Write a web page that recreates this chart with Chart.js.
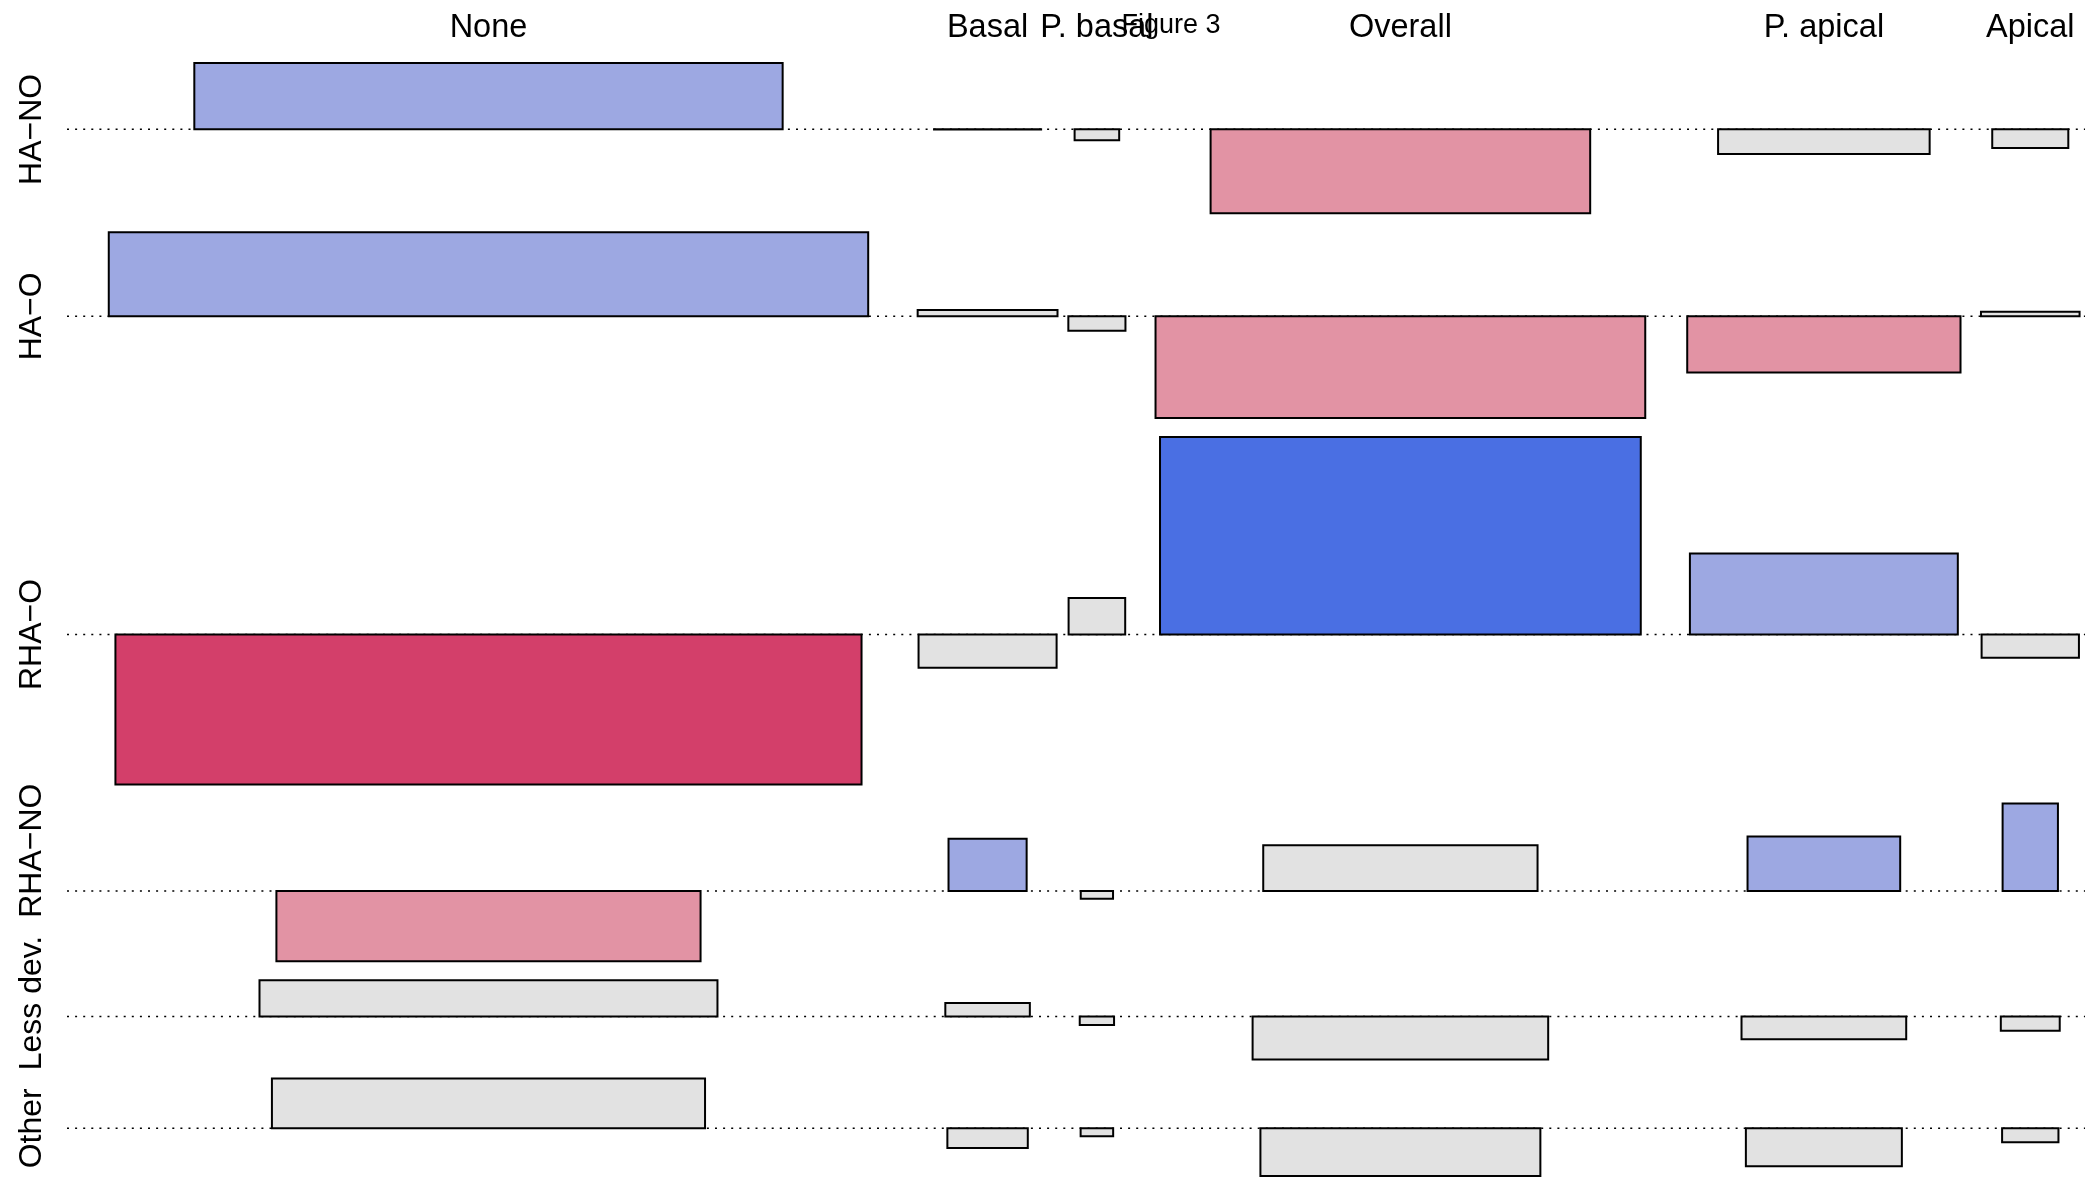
<!DOCTYPE html>
<html>
<head>
<meta charset="utf-8">
<title>Figure 3</title>
<script src="https://cdn.jsdelivr.net/npm/chart.js@4/dist/chart.umd.min.js"></script>
<style>
  html, body { margin: 0; padding: 0; background: #ffffff; }
  #wrap { width: 2085px; height: 1177px; position: relative; }
</style>
</head>
<body>
<div id="wrap"><canvas id="assoc"></canvas></div>
<script>
// ---- data ----------------------------------------------------------------
const title = 'Figure 3';
const columns = ['None', 'Basal', 'P. basal', 'Overall', 'P. apical', 'Apical'];
const rows = ['HA\u2212NO', 'HA\u2212O', 'RHA\u2212O', 'RHA\u2212NO', 'Less dev.', 'Other'];

// Pearson residuals, one array per row (columns in the order above)
const resHANO    = [ 2.59, -0.01, -0.43, -3.28, -0.96, -0.73];
const resHAO     = [ 3.28,  0.25, -0.56, -3.97, -2.19,  0.18];
const resRHAO    = [-5.86, -1.30,  1.42,  7.71,  3.16, -0.91];
const resRHANO   = [-2.75,  2.04, -0.31,  1.78,  2.12,  3.41];
const resLessDev = [ 1.41,  0.52, -0.34, -1.68, -0.89, -0.56];
const resOther   = [ 1.95, -0.77, -0.31, -1.86, -1.48, -0.54];

// square roots of the expected frequencies (cell widths), one array per row
const sqrtExpHANO    = [22.97, 4.18, 1.74, 14.82,  8.26, 2.97];
const sqrtExpHAO     = [29.65, 5.46, 2.23, 19.12, 10.67, 3.85];
const sqrtExpRHAO    = [29.13, 5.39, 2.21, 18.77, 10.46, 3.80];
const sqrtExpRHANO   = [16.56, 3.05, 1.26, 10.71,  5.96, 2.16];
const sqrtExpLessDev = [17.88, 3.30, 1.34, 11.54,  6.43, 2.30];
const sqrtExpOther   = [16.91, 3.14, 1.27, 10.93,  6.09, 2.20];

const residuals = [resHANO, resHAO, resRHAO, resRHANO, resLessDev, resOther];
const sqrtExpected = [sqrtExpHANO, sqrtExpHAO, sqrtExpRHAO, sqrtExpRHANO, sqrtExpLessDev, sqrtExpOther];

// ---- layout ----------------------------------------------------------------
const colSpacing = 0.11;   // free space around each column, as a share of its widest cell
const rowGap = 0.74;       // vertical gap between rows, in residual units

// each column gets a slot proportional to its widest cell
const colMax = columns.map((c, j) => Math.max(...sqrtExpected.map(r => r[j])));
const colCenter = [];
let xAcc = 0;
colMax.forEach(w => {
  const slot = w * (1 + colSpacing);
  colCenter.push(xAcc + slot / 2);
  xAcc += slot;
});
const xMax = xAcc;

// each row is as tall as its largest positive plus largest negative residual
const rowUp = residuals.map(r => Math.max(0, ...r));
const rowDown = residuals.map(r => Math.max(0, ...r.map(v => -v)));
const rowBase = [];
let yAcc = 0;
residuals.forEach((r, i) => {
  if (i > 0) yAcc += rowDown[i - 1] + rowGap;
  yAcc += rowUp[i];
  rowBase.push(yAcc);
});
const yMax = yAcc + rowDown[rowDown.length - 1];

// residual shading: grey below |2|, light between 2 and 4, full beyond 4
function shade(r) {
  const a = Math.abs(r);
  if (a < 2) return '#E2E2E2';
  if (r > 0) return a < 4 ? '#9DA8E2' : '#4A6FE3';
  return a < 4 ? '#E293A4' : '#D33F6A';
}

// ---- datasets --------------------------------------------------------------
const datasets = [];

// dotted baseline of every row
rowBase.forEach(b => {
  datasets.push({
    data: [{ x: 0, y: b }, { x: xMax, y: b }],
    borderColor: '#000000',
    borderWidth: 1.5,
    borderDash: [2, 6.1],
    fill: false,
    pointRadius: 0,
    order: 2,
    clip: false
  });
});

// one rectangle per cell: width = sqrt(expected), height = residual
rows.forEach((rowName, i) => {
  columns.forEach((colName, j) => {
    const r = residuals[i][j];
    const w = sqrtExpected[i][j];
    const x0 = colCenter[j] - w / 2;
    const x1 = colCenter[j] + w / 2;
    const yb = rowBase[i];
    const yt = yb - r;
    datasets.push({
      label: rowName + ' / ' + colName,
      data: [{ x: x0, y: yb }, { x: x1, y: yb }, { x: x1, y: yt }, { x: x0, y: yt }, { x: x0, y: yb }],
      borderColor: '#000000',
      borderWidth: 2,
      backgroundColor: shade(r),
      fill: 'shape',
      pointRadius: 0,
      tension: 0,
      borderJoinStyle: 'miter',
      borderCapStyle: 'square',
      order: 1,
      clip: false
    });
  });
});

// ---- labels ----------------------------------------------------------------
const FONT = "'Liberation Sans', Arial, Helvetica, sans-serif";
const labelPlugin = {
  id: 'assocLabels',
  afterDraw(chart) {
    const { ctx, scales } = chart;
    const xs = scales.x, ys = scales.y;
    ctx.save();
    ctx.fillStyle = '#000000';
    ctx.textBaseline = 'alphabetic';
    ctx.textAlign = 'center';

    // column labels along the top
    ctx.font = '32.5px ' + FONT;
    columns.forEach((c, j) => {
      ctx.fillText(c, xs.getPixelForValue(colCenter[j]), 37);
    });

    // row labels, rotated, pushed apart from the bottom up when they would collide
    ctx.font = '32px ' + FONT;
    const minGap = 18;
    const lens = rows.map(r => ctx.measureText(r).width);
    const centers = rowBase.map(b => ys.getPixelForValue(b));
    for (let i = rows.length - 2; i >= 0; i--) {
      const limit = centers[i + 1] - lens[i + 1] / 2 - minGap - lens[i] / 2;
      if (centers[i] > limit) centers[i] = limit;
    }
    rows.forEach((r, i) => {
      ctx.save();
      ctx.translate(41, centers[i]);
      ctx.rotate(-Math.PI / 2);
      ctx.fillText(r, 0, 0);
      ctx.restore();
    });

    // title
    ctx.font = '27px ' + FONT;
    ctx.fillText(title, 1171, 33);
    ctx.restore();
  }
};

new Chart(document.getElementById('assoc'), {
  type: 'line',
  data: { datasets },
  options: {
    responsive: true,
    maintainAspectRatio: false,
    animation: false,
    devicePixelRatio: 1,
    events: [],
    layout: { padding: { left: 67, right: 0, top: 63, bottom: 1 } },
    plugins: {
      legend: { display: false },
      tooltip: { enabled: false },
      title: { display: false }
    },
    scales: {
      x: { type: 'linear', min: 0, max: xMax, display: false },
      y: { type: 'linear', min: 0, max: yMax, reverse: true, display: false }
    }
  },
  plugins: [labelPlugin]
});
</script>
</body>
</html>
